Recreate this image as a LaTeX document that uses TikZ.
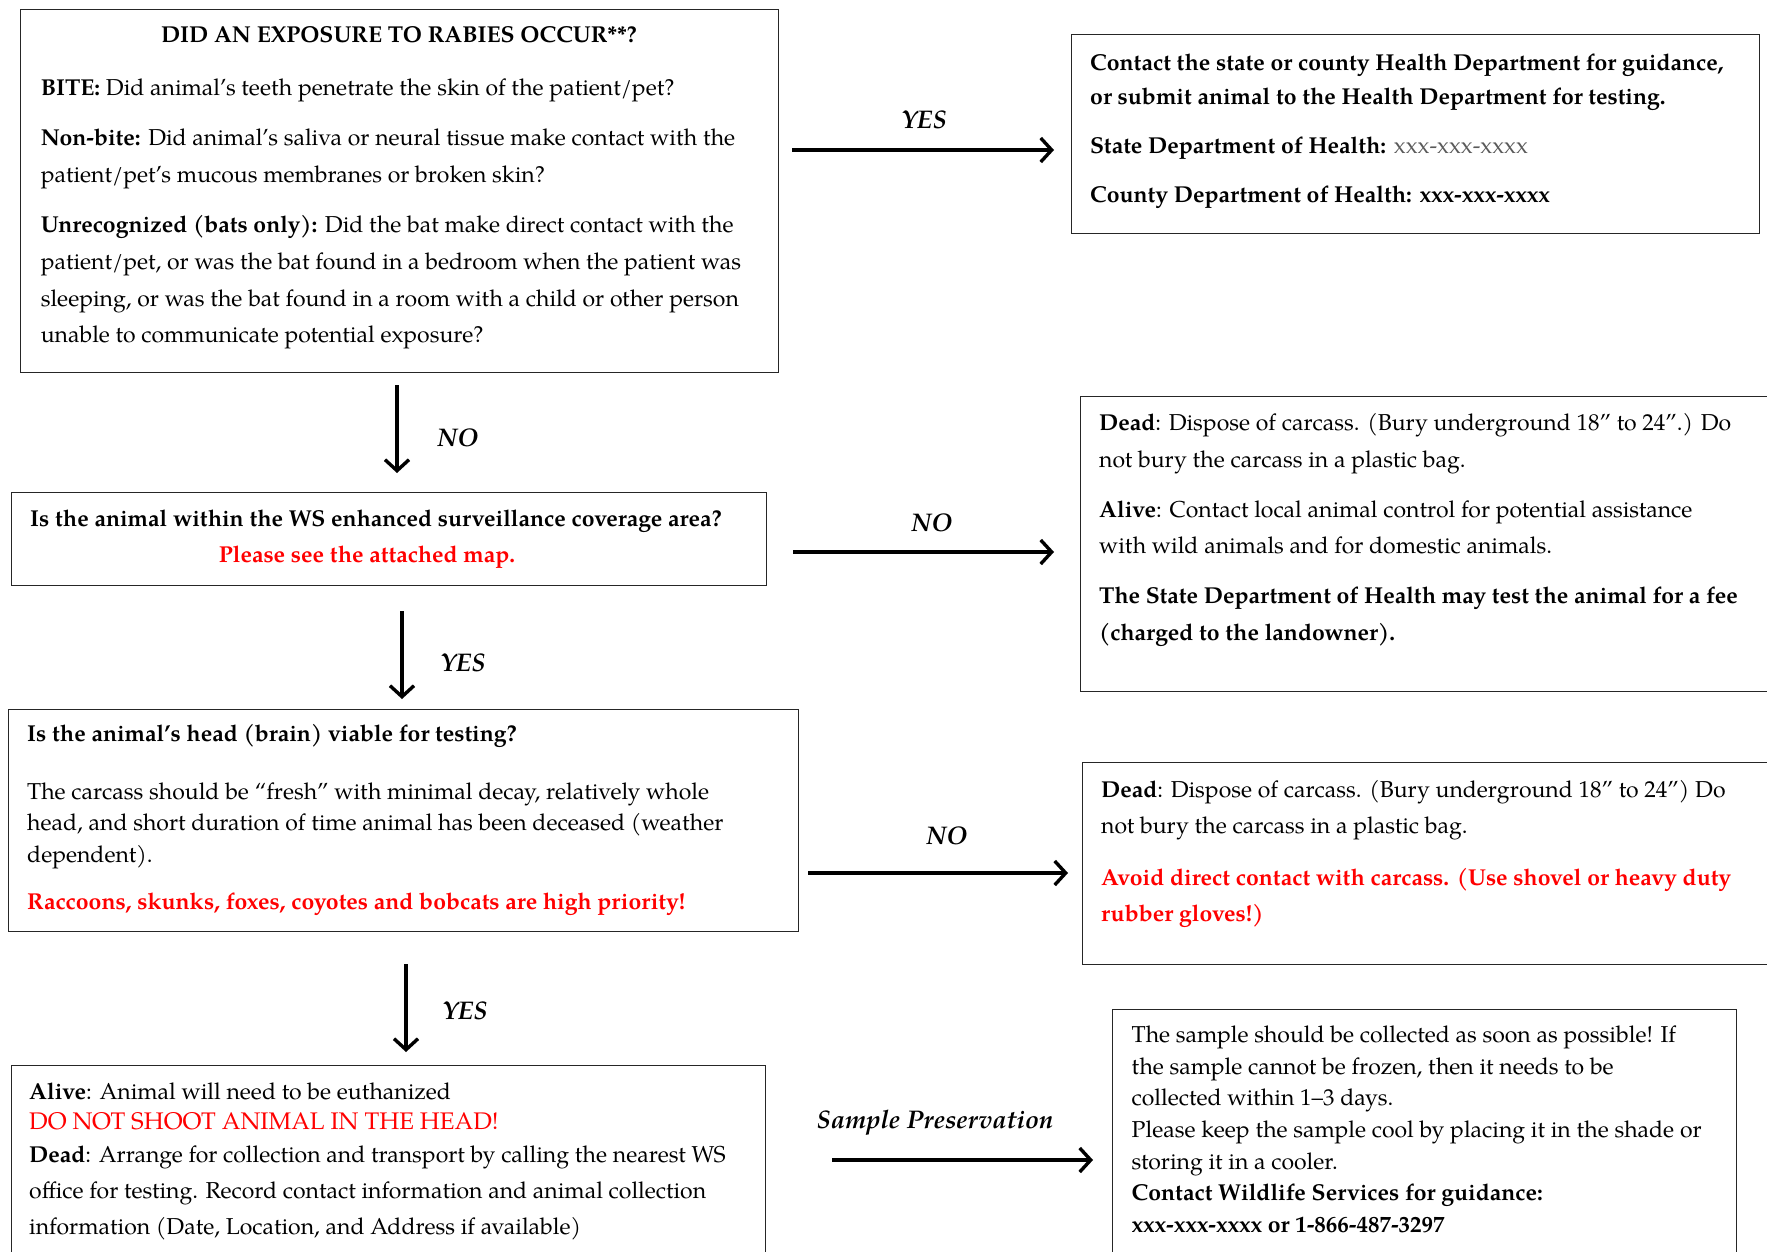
\documentclass[tikz,border=0pt]{standalone}
\usepackage{fontspec}
\setmainfont{TeX Gyre Pagella}
\usetikzlibrary{arrows.meta}
\definecolor{alertred}{RGB}{255,0,0}
\definecolor{phonegray}{RGB}{90,90,90}
\newcommand{\firstln}{\rule{0pt}{20pt}}
\tikzset{
  box/.style={draw=black!85, line width=1.4pt, anchor=north west, inner sep=0pt},
  txt/.style={anchor=north west, inner sep=0pt, align=left},
  ctxt/.style={anchor=base, inner sep=0pt, align=center},
  stxt/.style={anchor=base west, inner sep=0pt},
  lbl/.style={anchor=base, inner sep=0pt, font=\fontsize{25.5}{30}\selectfont\bfseries\itshape},
  arr/.style={line width=3.4pt, -{Straight Barb[length=11pt,width=24pt,line width=3.4pt]}},
}
\begin{document}
\begin{tikzpicture}[x=1pt,y=-1pt]
\useasboundingbox (0,0) rectangle (1767,1252);
% ---------- boxes ----------
\node[box, minimum width=758pt, minimum height=363pt] (b1) at (20,9) {};
\node[box, minimum width=688pt, minimum height=199pt] (b2) at (1071,34) {};
\node[box, minimum width=755pt, minimum height=93pt]  (b3) at (11,492) {};
\node[box, minimum width=700pt, minimum height=295pt] (b4) at (1080,396) {};
\node[box, minimum width=790pt, minimum height=222pt] (b5) at (8,709) {};
\node[box, minimum width=700pt, minimum height=202pt] (b6) at (1082,762) {};
\node[box, minimum width=754pt, minimum height=200pt] (b7) at (11,1065) {};
\node[box, minimum width=624pt, minimum height=260pt] (b8) at (1112,1009) {};
% ---------- box 1 ----------
\node[ctxt, font=\fontsize{23}{36.7}\selectfont\bfseries] (t1a) at (399,43) {DID AN EXPOSURE TO RABIES OCCUR**?};
\node[txt, font=\fontsize{23}{36.7}\selectfont] (t1b) at (40.6,75) {%
\firstln\textbf{BITE:} Did animal’s teeth penetrate the skin of the patient/pet?\\[14pt]
\textbf{Non-bite:} Did animal’s saliva or neural tissue make contact with the\\
patient/pet’s mucous membranes or broken skin?\\[13.5pt]
\textbf{Unrecognized (bats only):} Did the bat make direct contact with the\\
patient/pet, or was the bat found in a bedroom when the patient was\\
sleeping, or was the bat found in a room with a child or other person\\
unable to communicate potential exposure?};
% ---------- box 2 ----------
\node[txt, font=\fontsize{23}{34}\selectfont\bfseries] (t2) at (1090,50) {%
\firstln Contact the state or county Health Department for guidance,\\
or submit animal to the Health Department for testing.\\[15pt]
State Department of Health: {\mdseries\color{phonegray}xxx-xxx-xxxx}\\[15pt]
County Department of Health: xxx-xxx-xxxx};
% ---------- box 3 ----------
\node[stxt, font=\fontsize{23}{34}\selectfont\bfseries] (t3a) at (30,526) {Is the animal within the WS enhanced surveillance coverage area?};
\node[ctxt, font=\fontsize{23}{34}\selectfont\bfseries, text=alertred] (t3b) at (367,562) {Please see the attached map.};
% ---------- box 4 ----------
\node[txt, font=\fontsize{23}{36.3}\selectfont] (t4) at (1099,410.5) {%
\firstln\textbf{Dead}: Dispose of carcass. (Bury underground 18” to 24”.) Do\\
not bury the carcass in a plastic bag.\\[14pt]
\textbf{Alive}: Contact local animal control for potential assistance\\
with wild animals and for domestic animals.\\[14pt]
\textbf{The State Department of Health may test the animal for a fee}\\
\textbf{(charged to the landowner).}};
% ---------- box 5 ----------
\node[stxt, font=\fontsize{23}{31.5}\selectfont\bfseries] (t5a) at (27,741.6) {Is the animal’s head (brain) viable for testing?};
\node[txt, font=\fontsize{23}{31.5}\selectfont] (t5b) at (27,779) {%
\firstln The carcass should be “fresh” with minimal decay, relatively whole\\
head, and short duration of time animal has been deceased (weather\\
dependent).\\[16pt]
{\bfseries\color{alertred}Raccoons, skunks, foxes, coyotes and bobcats are high priority!}};
% ---------- box 6 ----------
\node[txt, font=\fontsize{23}{36}\selectfont] (t6) at (1101,777) {%
\firstln\textbf{Dead}: Dispose of carcass. (Bury underground 18” to 24”) Do\\
not bury the carcass in a plastic bag.\\[16pt]
{\bfseries\color{alertred}Avoid direct contact with carcass. (Use shovel or heavy duty}\\
{\bfseries\color{alertred}rubber gloves!)}};
% ---------- box 7 ----------
\node[txt, font=\fontsize{23}{36}\selectfont] (t7) at (29,1079) {%
\firstln\textbf{Alive}: Animal will need to be euthanized\\[-6pt]
{\fontsize{24}{36}\selectfont\color{alertred}DO NOT SHOOT ANIMAL IN THE HEAD!}\\[-3pt]
\textbf{Dead}: Arrange for collection and transport by calling the nearest WS\\
office for testing. Record contact information and animal collection\\
information (Date, Location, and Address if available)};
% ---------- box 8 ----------
\node[txt, font=\fontsize{23}{31.6}\selectfont] (t8) at (1131.5,1022.5) {%
\firstln The sample should be collected as soon as possible! If\\
the sample cannot be frozen, then it needs to be\\
collected within 1–3 days.\\
Please keep the sample cool by placing it in the shade or\\
storing it in a cooler.\\
\textbf{Contact Wildlife Services for guidance:}\\
\textbf{xxx-xxx-xxxx or 1-866-487-3297}};
% ---------- connectors ----------
\coordinate (c1s) at (792,150);  \coordinate (c1e) at (1054,150);
\coordinate (c2s) at (397,385);  \coordinate (c2e) at (397,473);
\coordinate (c3s) at (793,552);  \coordinate (c3e) at (1054,552);
\coordinate (c4s) at (402,611);  \coordinate (c4e) at (402,699);
\coordinate (c5s) at (808,873);  \coordinate (c5e) at (1068,873);
\coordinate (c6s) at (406,964);  \coordinate (c6e) at (406,1052);
\coordinate (c7s) at (832,1160); \coordinate (c7e) at (1093,1160);
\draw[arr] (c1s) -- (c1e);
\draw[arr] (c2s) -- (c2e);
\draw[arr] (c3s) -- (c3e);
\draw[arr] (c4s) -- (c4e);
\draw[arr] (c5s) -- (c5e);
\draw[arr] (c6s) -- (c6e);
\draw[arr] (c7s) -- (c7e);
% ---------- labels ----------
\node[lbl] (l1) at (924,129) {YES};
\node[lbl] (l2) at (458,446) {NO};
\node[lbl] (l3) at (932,531) {NO};
\node[lbl] (l4) at (463,671) {YES};
\node[lbl] (l5) at (947,844) {NO};
\node[lbl] (l6) at (465,1019) {YES};
\node[lbl] (l7) at (935,1128) {Sample Preservation};
\end{tikzpicture}
\end{document}
